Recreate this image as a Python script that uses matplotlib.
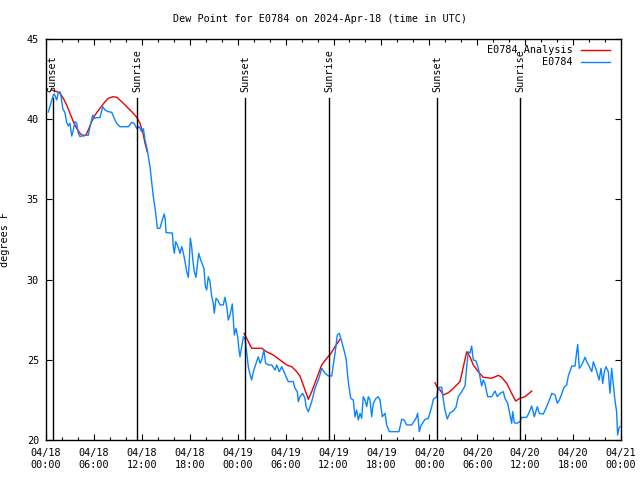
import datetime as dt
import numpy as np
import matplotlib
matplotlib.use("Agg")
import matplotlib.pyplot as plt
import matplotlib.dates as mdates

# Données (heures depuis 2024-04-18 00:00 UTC, degrés F) ======================
obs_h = [0.29, 0.91, 1.04, 1.34, 1.54, 1.75, 1.9, 2.09, 2.38, 2.59, 2.79, 3.0, 3.22, 3.42, 3.63,
         3.84, 4.04, 4.26, 4.67, 5.3, 5.51, 5.85, 6.05, 6.35, 6.76, 7.1, 7.39, 7.8, 8.23, 8.64,
         8.85, 9.27, 10.31, 10.73, 11.02, 11.36, 11.68, 11.98, 12.2, 12.4, 12.68, 13.02, 13.44,
         13.74, 13.94, 14.27, 14.56, 14.81, 14.94, 15.03, 15.82, 15.94, 16.07, 16.24, 16.44,
         16.65, 16.78, 16.99, 17.19, 17.41, 17.62, 17.82, 17.94, 18.07, 18.24, 18.37, 18.57,
         18.78, 19.0, 19.12, 19.37, 19.78, 19.95, 20.12, 20.32, 20.54, 20.75, 20.95, 21.07,
         21.29, 21.5, 21.79, 22.2, 22.41, 22.63, 22.83, 23.04, 23.33, 23.46, 23.58, 23.79, 24.0,
         24.17, 24.29, 24.5, 24.71, 24.92, 25.13, 25.33, 25.54, 25.75, 25.96, 26.17, 26.38,
         26.58, 26.8, 27.0, 27.29, 27.5, 27.84, 28.26, 28.68, 28.89, 29.21, 29.51, 29.8, 30.14,
         30.34, 30.97, 31.18, 31.47, 31.59, 31.8, 32.14, 32.43, 32.56, 32.85, 33.27, 33.68,
         34.18, 34.52, 34.94, 35.35, 35.78, 36.19, 36.48, 36.73, 37.03, 37.31, 37.57, 37.85,
         38.15, 38.48, 38.69, 38.9, 39.11, 39.32, 39.53, 39.73, 39.94, 40.16, 40.36, 40.57,
         40.78, 40.98, 41.32, 41.61, 41.82, 42.11, 42.45, 42.66, 42.99, 44.2, 44.54, 44.83,
         45.16, 45.79, 46.33, 46.54, 46.74, 46.96, 47.46, 47.87, 48.3, 48.5, 48.93, 49.13,
         49.55, 49.76, 49.96, 50.25, 50.59, 51.0, 51.34, 51.63, 52.05, 52.47, 52.68, 52.88,
         53.09, 53.3, 53.5, 53.84, 54.13, 54.34, 54.55, 54.75, 54.96, 55.31, 55.81, 56.22,
         56.51, 56.85, 57.26, 57.47, 57.81, 58.1, 58.31, 58.44, 58.64, 58.94, 59.35, 59.56,
         60.19, 60.48, 60.82, 61.15, 61.52, 61.77, 62.27, 62.61, 63.03, 63.33, 63.74, 64.03,
         64.28, 64.56, 64.86, 65.2, 65.4, 65.83, 66.24, 66.45, 66.58, 66.78, 67.09, 67.5,
         67.71, 68.04, 68.34, 68.54, 68.75, 68.97, 69.25, 69.5, 69.71, 69.91, 70.12, 70.41,
         70.62, 70.83, 71.03, 71.24, 71.45, 71.58, 71.74, 71.86]
obs_v = [40.45, 41.5, 41.57, 41.2, 41.65, 41.72, 41.4, 40.68, 40.39, 39.78, 39.58, 39.75, 38.95,
         39.33, 39.85, 39.75, 39.12, 38.91, 39.0, 39.0, 39.53, 40.26, 40.05, 40.1, 40.1, 40.78,
         40.57, 40.47, 40.43, 39.95, 39.74, 39.53, 39.53, 39.8, 39.74, 39.43, 39.53, 39.22, 39.4,
         38.7, 38.08, 37.04, 35.17, 34.13, 33.2, 33.2, 33.72, 34.09, 33.7, 32.93, 32.9, 32.06,
         31.64, 32.37, 32.16, 31.85, 31.64, 32.06, 31.68, 31.12, 30.5, 30.14, 31.12, 32.58,
         32.06, 31.3, 30.49, 30.14, 31.12, 31.64, 31.22, 30.7, 29.6, 29.35, 30.18, 29.87, 28.93,
         28.52, 27.9, 28.83, 28.73, 28.42, 28.42, 28.9, 28.31, 27.48, 27.79, 28.48, 27.5, 26.55,
         26.96, 26.44, 25.61, 25.19, 25.82, 26.44, 26.34, 25.41, 24.57, 24.1, 23.74, 24.26,
         24.57, 24.9, 25.19, 24.78, 24.99, 25.61, 24.78, 24.68, 24.68, 24.36, 24.68, 24.26,
         24.57, 24.26, 23.85, 23.64, 23.64, 23.22, 23.01, 22.39, 22.7, 22.91, 22.6, 22.08,
         21.76, 22.39, 23.22, 23.85, 24.47, 24.16, 23.99, 23.99, 25.41, 26.55, 26.65, 26.13,
         25.61, 25.09, 23.64, 22.6, 22.49, 21.45, 21.87, 21.25, 21.66, 21.35, 22.7, 22.49,
         22.08, 22.7, 22.49, 21.45, 22.29, 22.6, 22.7, 22.49, 21.45, 21.66, 20.94, 20.52, 20.52,
         21.29, 21.25, 20.94, 20.94, 21.35, 21.66, 20.52, 20.9, 21.29, 21.35, 22.08, 22.54,
         22.7, 23.28, 23.28, 22.49, 21.87, 21.31, 21.7, 21.81, 22.04, 22.7, 23.01, 23.37, 24.57,
         25.5, 25.41, 25.86, 24.99, 24.93, 24.47, 23.95, 23.37, 23.74, 23.53, 22.7, 22.7, 23.05,
         22.7, 22.91, 23.01, 22.6, 22.29, 21.56, 21.04, 21.77, 21.08, 21.04, 21.14, 21.41,
         21.41, 21.7, 22.12, 21.45, 22.08, 21.66, 21.62, 21.98, 22.49, 22.91, 22.81, 22.29,
         22.49, 22.85, 23.28, 23.43, 23.99, 24.61, 24.61, 25.5, 25.96, 24.47, 24.68, 25.16,
         24.88, 24.57, 24.26, 24.88, 24.57, 24.26, 23.74, 24.47, 23.53, 24.26, 24.57, 24.26,
         22.91, 24.47, 23.53, 22.49, 21.77, 20.31, 20.73, 20.83]

# Analyse : trois segments séparés
ana1_h = [0.71, 1.34, 1.75, 2.17, 2.59, 3.0, 3.42, 3.84, 4.26, 4.67, 5.01, 5.3, 5.72, 6.14, 6.76,
          7.39, 7.8, 8.35, 8.85, 9.48, 10.11, 10.73, 11.36, 11.77, 12.11, 12.4, 12.68]
ana1_v = [41.82, 41.72, 41.62, 41.3, 40.89, 40.37, 39.85, 39.43, 39.12, 38.95, 39.02, 39.33, 39.85,
          40.26, 40.68, 41.09, 41.3, 41.4, 41.37, 41.09, 40.78, 40.47, 40.12, 39.74, 39.22, 38.5,
          37.97]
ana2_h = [24.79, 25.13, 25.75, 27.0, 27.63, 28.46, 29.3, 30.14, 30.77, 31.39, 31.8, 32.14, 32.43,
          32.85, 33.27, 33.9, 34.52, 35.15, 35.69, 36.19, 36.81]
ana2_v = [26.65, 26.34, 25.72, 25.72, 25.5, 25.3, 24.99, 24.68, 24.57, 24.26, 23.99, 23.53, 23.12,
          22.54, 23.01, 23.85, 24.68, 25.09, 25.41, 25.82, 26.28]
ana3_h = [48.71, 49.0, 49.34, 49.76, 50.38, 50.8, 51.43, 51.84, 52.26, 52.68, 53.09, 53.5, 54.13,
          54.75, 55.81, 56.64, 57.06, 57.69, 58.31, 58.81, 59.35, 59.98, 60.82]
ana3_v = [23.57, 23.28, 23.12, 22.81, 22.95, 23.12, 23.43, 23.64, 24.57, 25.5, 25.19, 24.68, 24.26,
          23.91, 23.85, 24.03, 23.91, 23.53, 22.91, 22.43, 22.6, 22.7, 23.05]

# Lever / coucher du soleil
sun_h = [0.84, 11.43, 24.92, 35.44, 48.96, 59.35]
sun_lab = ["Sunset", "Sunrise", "Sunset", "Sunrise", "Sunset", "Sunrise"]

t0 = dt.datetime(2024, 4, 18)
def tt(hours):
    return [t0 + dt.timedelta(hours=h) for h in hours]

# Figure ======================================================================
plt.rcParams['font.family'] = ['DejaVu Sans Mono']
plt.rcParams['font.size'] = 7.3
fig = plt.figure(figsize=(6.4, 4.8), dpi=100)
ax = fig.add_axes([46/640, 40/480, 575/640, 401/480])

red = '#ee0000'
blue = '#0a84ff'
for h, v in [(ana1_h, ana1_v), (ana2_h, ana2_v), (ana3_h, ana3_v)]:
    ax.plot(tt(h), v, color=red, lw=1.0)
ax.plot(tt(obs_h), obs_v, color=blue, lw=1.0)

for h, lab in zip(sun_h, sun_lab):
    ax.axvline(t0 + dt.timedelta(hours=h), ymin=0, ymax=(41.3-20)/25, color='k', lw=1.0)
    ax.text(t0 + dt.timedelta(hours=h), 41.7, lab, rotation=90, ha='center', va='bottom')

ax.set_xlim(t0, t0 + dt.timedelta(hours=72))
ax.set_ylim(20, 45)
ax.set_yticks(np.arange(20, 46, 5))
ax.xaxis.set_major_locator(mdates.HourLocator(byhour=[0, 6, 12, 18]))
ax.xaxis.set_minor_locator(mdates.HourLocator(interval=2))
ax.xaxis.set_major_formatter(mdates.DateFormatter('%m/%d\n%H:%M'))
ax.tick_params(which='both', direction='in', top=True, right=True, width=0.8)
ax.tick_params(which='major', length=4.5)
ax.tick_params(which='minor', length=2.5)
ax.tick_params(axis='x', pad=6)
ax.tick_params(axis='y', pad=5)
for s in ax.spines.values():
    s.set_linewidth(1.0)

ax.set_ylabel('degrees F')
ax.yaxis.set_label_coords(-0.063, 0.5)
fig.text(0.5, 1 - 19/480, 'Dew Point for E0784 on 2024-Apr-18 (time in UTC)', ha='center', va='center')

# Légende à la gnuplot (texte aligné à droite)
for y, lab, c in [(0.9726, 'E0784 Analysis', red), (0.9426, 'E0784', blue)]:
    ax.text(0.9165, y, lab, transform=ax.transAxes, ha='right', va='center')
    ax.plot([0.930, 0.981], [y, y], color=c, lw=1.0, transform=ax.transAxes)

fig.savefig('out.png', dpi=100)
